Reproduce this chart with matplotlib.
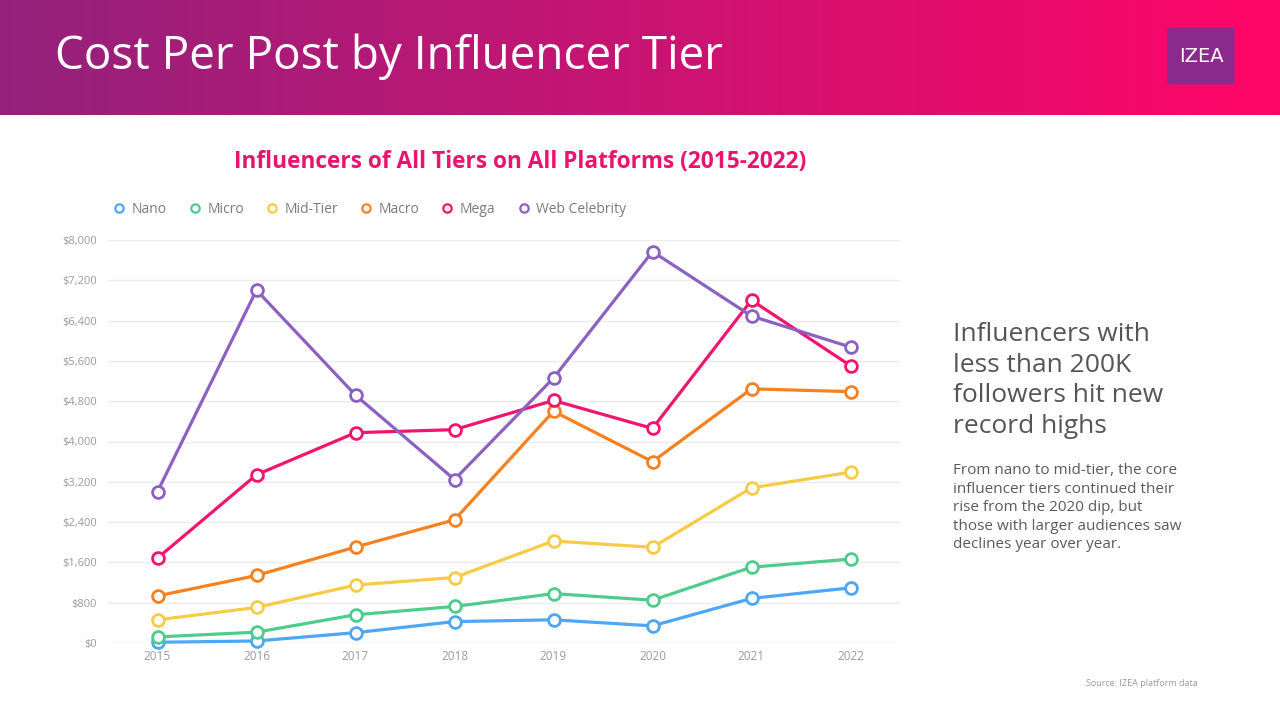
import matplotlib
matplotlib.use('Agg')
import matplotlib.pyplot as plt
import numpy as np
from matplotlib.patches import FancyBboxPatch
from matplotlib.ticker import FuncFormatter

plt.rcParams['font.family'] = ['Open Sans', 'DejaVu Sans']

years = ['2015', '2016', '2017', '2018', '2019', '2020', '2021', '2022']
tiers = ['Nano', 'Micro', 'Mid-Tier', 'Macro', 'Mega', 'Web Celebrity']
nano = [15, 40, 205, 425, 460, 340, 885, 1095]
micro = [120, 215, 560, 725, 980, 850, 1505, 1665]
mid_tier = [460, 705, 1150, 1300, 2025, 1900, 3080, 3390]
macro = [935, 1340, 1905, 2445, 4600, 3600, 5045, 4990]
mega = [1685, 3340, 4175, 4235, 4815, 4260, 6805, 5505]
web_celebrity = [3005, 7005, 4920, 3245, 5260, 7770, 6490, 5875]
y_ticks = [0, 800, 1600, 2400, 3200, 4000, 4800, 5600, 6400, 7200, 8000]

series = [nano, micro, mid_tier, macro, mega, web_celebrity]
colors = ['#4ea6f7', '#4ecc8c', '#f8cb45', '#f7801f', '#f2146f', '#8b61c1']

fig = plt.figure(figsize=(12.8, 7.2), dpi=100)
fig.patch.set_facecolor('white')

# header band with gradient
hdr = fig.add_axes([0, 1 - 115 / 720, 1, 115 / 720])
left_c = np.array([147, 34, 124]) / 255
right_c = np.array([255, 6, 104]) / 255
t = np.linspace(0, 1, 512)
grad = left_c[None, :] * (1 - t[:, None]) + right_c[None, :] * t[:, None]
hdr.imshow(grad[None, :, :], aspect='auto', extent=[0, 1, 0, 1])
hdr.set_axis_off()

fig.text(55 / 1280, 1 - 57 / 720, 'Cost Per Post by Influencer Tier', color='white',
         fontsize=33, va='center', ha='left')

# logo
logo = FancyBboxPatch((1170 / 1280, 1 - 83 / 720), 62 / 1280, 54 / 720,
                      boxstyle='round,pad=0.002', transform=fig.transFigure,
                      facecolor='#8a2a8c', edgecolor='none')
fig.patches.append(logo)
fig.text(1201 / 1280, 1 - 56 / 720, 'IZEA', color='white', fontsize=14,
         ha='center', va='center', family=['DejaVu Sans Condensed', 'DejaVu Sans'])

# chart
ax = fig.add_axes([108 / 1280, 1 - 643 / 720, 792 / 1280, 403 / 720])
x = np.arange(len(years))
for name, vals, c in zip(tiers, series, colors):
    ax.plot(x, vals, color=c, lw=2.3, marker='o', markersize=8.5,
            markerfacecolor='white', markeredgecolor=c, markeredgewidth=2.0,
            label=name, clip_on=False, zorder=3)

ax.set_xlim(-0.5, len(years) - 0.5)
ax.set_ylim(0, 8000)
ax.set_yticks(y_ticks)
ax.yaxis.set_major_formatter(FuncFormatter(lambda v, p: f'${int(v):,}'))
ax.set_xticks(x)
ax.set_xticklabels(years)
ax.grid(axis='y', color='#ebebeb', lw=1.0)
ax.set_axisbelow(True)
for s in ax.spines.values():
    s.set_visible(False)
ax.tick_params(length=0, colors='#9a9a9a', labelsize=8)
ax.tick_params(axis='x', pad=5, labelsize=8.5)
ax.tick_params(axis='y', pad=8)

handles, labels = ax.get_legend_handles_labels()
leg_handles = []
for h in handles:
    lh = plt.Line2D([], [], linestyle='none', marker='o', markersize=6,
                    markerfacecolor='white', markeredgecolor=h.get_color(),
                    markeredgewidth=1.6)
    leg_handles.append(lh)
leg = ax.legend(leg_handles, labels, ncol=6, frameon=False, loc='center left',
                bbox_to_anchor=(0.0, 1.076), fontsize=10, handlelength=0.8,
                handletextpad=0.5, columnspacing=1.62, borderaxespad=0)
for txt in leg.get_texts():
    txt.set_color('#7a7a7a')

fig.text(520.5 / 1280, 1 - 162 / 720, 'Influencers of All Tiers on All Platforms (2015-2022)',
         color='#ea1470', fontsize=16.3, fontweight='bold', ha='center', va='center')

# side text
fig.text(953 / 1280, 1 - 322 / 720,
         'Influencers with\nless than 200K\nfollowers hit new\nrecord highs',
         color='#555555', fontsize=19, ha='left', va='top', linespacing=1.3)
fig.text(953 / 1280, 1 - 463 / 720,
         'From nano to mid-tier, the core\ninfluencer tiers continued their\n'
         'rise from the 2020 dip, but\nthose with larger audiences saw\n'
         'declines year over year.',
         color='#5a5a5a', fontsize=11, ha='left', va='top', linespacing=1.32)
fig.text(1198 / 1280, 1 - 684 / 720, 'Source: IZEA platform data', color='#999999',
         fontsize=6.5, ha='right', va='center')

fig.savefig('out.png', dpi=100)
